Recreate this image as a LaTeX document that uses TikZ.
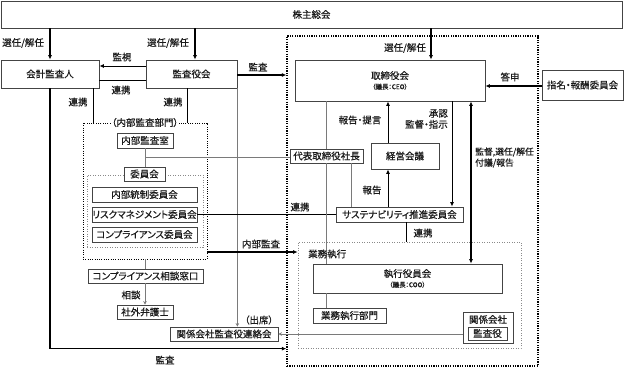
\documentclass[tikz,border=0pt]{standalone}
\usepackage{fontspec}
\setmainfont{Noto Sans CJK JP}[RawFeature=+palt, FakeBold=0.5]
\usetikzlibrary{arrows.meta}
\definecolor{boxc}{HTML}{444444}
\definecolor{txt}{HTML}{1A1A1A}
\definecolor{linec}{HTML}{7A7A7A}
\definecolor{dotg}{HTML}{8A8A8A}
\begin{document}
\begin{tikzpicture}[x=1pt,y=-1pt,
  font=\fontsize{9.5}{11}\selectfont,
  bx/.style={draw=boxc, line width=0.8pt, fill=white, inner sep=0pt, text=txt, align=center},
  lb/.style={inner sep=0pt, text=txt},
  thk/.style={line width=1.4pt, black},
  med/.style={line width=0.9pt, black},
  thn/.style={line width=0.6pt, linec},
  tip/.style={-{Latex[length=4.5pt,width=4pt]}},
  tipb/.style={{Latex[length=4.5pt,width=4pt]}-{Latex[length=4.5pt,width=4pt]}},
  gtip/.style={-{Stealth[length=3.5pt,width=3.5pt]}},
  bigdot/.style={draw=black, line width=1.3pt, dash pattern=on 1.2pt off 1.2pt},
  blkdot/.style={draw=black, line width=0.9pt, dash pattern=on 1pt off 1.3pt},
  grydot/.style={draw=dotg, line width=0.6pt, dash pattern=on 1pt off 1.5pt},
]
\useasboundingbox (0,0) rectangle (624,369);

% ---- dotted frames
\node[bigdot, minimum width=251pt, minimum height=330pt, inner sep=0pt] (big) at (412.5,201) {};
\node[blkdot, minimum width=124pt, minimum height=136pt, inner sep=0pt] (naibu) at (145,191) {};
\node[grydot, minimum width=116pt, minimum height=72pt, inner sep=0pt] (iinkai) at (145,211) {};
\node[grydot, minimum width=223pt, minimum height=106pt, inner sep=0pt] (gyomu) at (409.5,295) {};

% ---- boxes
\node[bx, minimum width=621pt, minimum height=27pt] (kabu) at (311.5,14.5) {株主総会};
\node[bx, minimum width=98pt, minimum height=28pt] (kaikei) at (50,74) {会計監査人};
\node[bx, minimum width=91pt, minimum height=28pt] (kansa) at (191.5,74) {監査役会};
\node[bx, minimum width=190pt, minimum height=41pt] (tori) at (390,80.5) {取締役会\\[-1pt]{\fontsize{6.5}{7}\selectfont （議長：CEO）}};
\node[bx, minimum width=81pt, minimum height=30pt] (shimei) at (582.5,85) {指名・報酬委員会};

\node[bx, minimum width=56pt, minimum height=15pt] (naibushitsu) at (145,140.5) {内部監査室};
\node[bx, minimum width=105pt, minimum height=15pt] (tousei) at (144.5,194.5) {内部統制委員会};
\node[bx, minimum width=105pt, minimum height=15pt] (risk) at (144.5,214.5) {リスクマネジメント委員会};
\node[bx, minimum width=105pt, minimum height=15pt] (comp) at (144.5,234.5) {コンプライアンス委員会};
\node[bx, minimum width=115pt, minimum height=14pt] (soudan) at (145.5,276) {コンプライアンス相談窓口};
\node[bx, minimum width=56pt, minimum height=14pt] (bengo) at (145,312) {社外弁護士};
\node[bx, minimum width=108pt, minimum height=14pt] (renraku) at (224,334) {関係会社監査役連絡会};

\node[bx, minimum width=73pt, minimum height=14pt] (daihyo) at (326.5,156) {代表取締役社長};
\node[bx, minimum width=68pt, minimum height=26pt] (keiei) at (405,156) {経営会議};
\node[bx, minimum width=127pt, minimum height=15pt] (sus) at (399.5,214.5) {サステナビリティ推進委員会};
\node[bx, minimum width=189pt, minimum height=29pt] (shikko) at (407.5,278.5) {執行役員会\\[-1pt]{\fontsize{6.5}{7}\selectfont （議長：COO）}};
\node[bx, minimum width=73pt, minimum height=15pt] (bumon) at (349.5,315.5) {業務執行部門};
\node[bx, minimum width=50pt, minimum height=31pt] (kankei) at (488,327.5) {};
\node[lb] (kankeiT) at (488,319.5) {関係会社};
\node[bx, minimum width=39pt, minimum height=13pt] (kansayaku) at (487.5,333.5) {監査役};

% ---- connectors (left)
\draw[thk,tip] (kaikei.north |- kabu.south) -- (kaikei.north);
\draw[thk,tip] ([xshift=3.5pt]kansa.north |- kabu.south) -- ([xshift=3.5pt]kansa.north);
\draw[thk,tip] ([xshift=41pt]tori.north |- kabu.south) -- ([xshift=41pt]tori.north);
\draw[med,tip] ([yshift=8pt]kansa.west) -- ([yshift=8pt]kansa.west -| kaikei.east);
\draw[med] ([yshift=-6pt]kansa.west) -- ([yshift=-6pt]kansa.west -| kaikei.east);
\draw[thk,tip] ([yshift=-1pt]kansa.east) -- ([yshift=-1pt]kansa.east -| big.west);
\draw[thk,tip] ([yshift=-1pt]shimei.west) -- ([yshift=-1pt]shimei.west -| tori.east);
\draw[thk,tip] (kaikei.south) |- ([yshift=18pt]big.south west);
\draw[med] ([xshift=43pt]kaikei.south) -- ([xshift=43pt]kaikei.south |- naibu.north);
\draw[med] ([xshift=-4.5pt]kansa.south) -- ([xshift=-4.5pt]kansa.south |- naibu.north);
\draw[thn,gtip] (kansa.south east) -- (kansa.south east |- renraku.north);
\draw[thn] (naibushitsu.south) -- (naibushitsu.south |- iinkai.north);
\draw[thn] ([yshift=-1pt]daihyo.west -| naibushitsu.south) -- ([yshift=-1pt]daihyo.west);
\draw[thk] (risk.east) -- (risk.east -| sus.west);
\draw[thk,tip] ([yshift=-61pt]naibu.east) -- ([yshift=-61pt]naibu.east -| gyomu.west);
\draw[thn] (naibu.south) -- (naibu.south |- soudan.north);
\draw[thn,gtip] (soudan.south -| bengo.north) -- (bengo.north);
\draw[thn,gtip] (renraku.east -| kankei.west) -- (renraku.east);

% ---- connectors (right)
\draw[thn] (daihyo.north |- tori.south) -- (daihyo.north);
\draw[thn] (daihyo.south) -- (daihyo.south |- shikko.north);
\draw[thn] (daihyo.south |- shikko.south) -- (daihyo.south |- bumon.north);
\draw[med,tip] ([xshift=-17pt]keiei.north) -- ([xshift=-17pt]keiei.north |- tori.south);
\draw[med,tip] ([xshift=-17pt]keiei.south |- sus.north) -- ([xshift=-17pt]keiei.south);
\draw[med,tip] ([xshift=62pt]tori.south) -- ([xshift=62pt]tori.south |- sus.north);
\draw[thk,tipb] ([xshift=81pt]tori.south) -- ([xshift=81pt]tori.south |- shikko.north);
\draw[thn] ([xshift=24.5pt]daihyo.south) -- ([xshift=24.5pt]daihyo.south |- sus.north);
\draw[med] ([xshift=6.5pt]sus.south) -- ([xshift=6.5pt]sus.south |- gyomu.north);

% ---- frame titles
\node[lb, fill=white, inner xsep=1pt] (naibuT) at (naibu.north) {（内部監査部門）};
\node[bx, minimum width=41pt, minimum height=14pt] (iinkaiT) at (144.5,174) {委員会};
\node[lb, anchor=west] (gyomuT) at (308,254) {業務執行};

% ---- labels
\node[lb, anchor=west] (l1) at (2,43) {選任/解任};
\node[lb] (l2) at (168,43) {選任/解任};
\node[lb] (l3) at (405,48) {選任/解任};
\node[lb] (l4) at (122,57) {監視};
\node[lb] (l5) at (121,90) {連携};
\node[lb] (l6) at (258,67) {監査};
\node[lb] (l7) at (510,77) {答申};
\node[lb] (l8) at (78,102) {連携};
\node[lb] (l9) at (173,102) {連携};
\node[lb] (l10) at (165,360) {監査};
\node[lb] (l11) at (300,207) {連携};
\node[lb] (l12) at (261,244) {内部監査};
\node[lb] (l13) at (131,295) {相談};
\node[lb] (l14) at (259,320) {（出席）};
\node[lb] (l15) at (360,120) {報告・提言};
\node[lb, anchor=east, align=right] (l16) at (448,119) {承認\\監督・指示};
\node[lb, anchor=west, align=left, font=\fontsize{8.8}{11}\selectfont] (l17) at (475,157.5) {監督,選任/解任\\付議/報告};
\node[lb] (l18) at (372,190) {報告};
\node[lb] (l19) at (423,233) {連携};
\end{tikzpicture}
\end{document}
